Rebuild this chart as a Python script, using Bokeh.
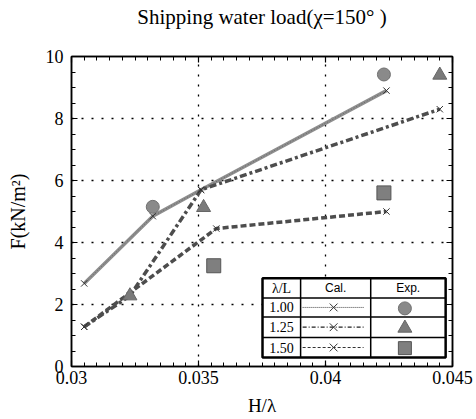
from bokeh.plotting import figure
from bokeh.models import Range1d, LinearAxis, FixedTicker, CustomJSTickFormatter, Title
from bokeh.embed import file_html
from bokeh.resources import INLINE
from bokeh.core.properties import value

# ---------------- data ----------------
h_cal_100 = [0.0305, 0.0332, 0.0351, 0.0424]
f_cal_100 = [2.68, 4.85, 5.70, 8.90]
h_cal_125 = [0.0305, 0.0323, 0.0351, 0.0445]
f_cal_125 = [1.28, 2.28, 5.70, 8.30]
h_cal_150 = [0.0305, 0.0357, 0.0424]
f_cal_150 = [1.28, 4.45, 5.00]

h_exp_100 = [0.0332, 0.0423]
f_exp_100 = [5.15, 9.42]
h_exp_125 = [0.0323, 0.0352, 0.0445]
f_exp_125 = [2.28, 5.13, 9.40]
h_exp_150 = [0.0356, 0.0423]
f_exp_150 = [3.25, 5.60]

x_ticks = [0.03, 0.035, 0.04, 0.045]
x_tick_labels = ["0.03", "0.035", "0.04", "0.045"]
y_ticks = [0, 2, 4, 6, 8, 10]
legend_names = ["1.00", "1.25", "1.50"]

title_text = "Shipping water load(\u03c7=150\u00b0 )"
x_label = "H/\u03bb"
y_label = "F(kN/m\u00b2)"

SERIF = "Liberation Serif"
SANS = "Liberation Sans"

# ---------------- figure ----------------
X0, X1, Y0, Y1 = 0.03, 0.045, 0.0, 10.0
p = figure(width=476, height=419, output_backend="svg", toolbar_location=None,
           x_range=Range1d(X0, X1), y_range=Range1d(Y0, Y1),
           min_border_left=71, min_border_right=24, min_border_top=56, min_border_bottom=53,
           background_fill_color="white", border_fill_color="white")
p.outline_line_color = "black"
p.outline_line_width = 1.5

p.title.text = title_text
p.title.text_font = SERIF
p.title.text_font_size = "21px"
p.title.text_font_style = "normal"
p.title.text_color = "black"
p.title.align = "center"
p.title.vertical_align = "top"
p.title.standoff = 8

x_minor = [X0 + i * 0.0005 for i in range(31)]
y_minor = [i * 0.5 for i in range(21)]
xt = FixedTicker(ticks=x_ticks, minor_ticks=x_minor)
yt = FixedTicker(ticks=y_ticks, minor_ticks=y_minor)

def style_axis(ax):
    ax.major_tick_in = 6
    ax.major_tick_out = 0
    ax.minor_tick_in = 4
    ax.minor_tick_out = 0
    ax.axis_line_width = 1.5
    ax.major_tick_line_width = 1.2
    ax.minor_tick_line_width = 1
    ax.major_label_text_font = SERIF
    ax.major_label_text_font_size = "18px"
    ax.major_label_text_color = "black"
    ax.axis_label_text_font = SERIF
    ax.axis_label_text_font_style = "normal"
    ax.axis_label_text_color = "black"

p.xaxis.ticker = xt
p.yaxis.ticker = yt
p.xaxis.major_label_overrides = {t: s for t, s in zip(x_ticks, x_tick_labels)}
for ax in p.xaxis:
    style_axis(ax)
    ax.major_label_standoff = 4
    ax.axis_label = x_label
    ax.axis_label_text_font_size = "19px"
    ax.axis_label_standoff = 8
for ax in p.yaxis:
    style_axis(ax)
    ax.major_label_standoff = 8
    ax.axis_label = y_label
    ax.axis_label_text_font_size = "20px"
    ax.axis_label_standoff = 14

blank = CustomJSTickFormatter(code="return ''")
ax_r = LinearAxis(ticker=FixedTicker(ticks=y_ticks, minor_ticks=y_minor), formatter=blank)
style_axis(ax_r)
ax_r.major_label_standoff = 0
p.add_layout(ax_r, "right")
ax_t = LinearAxis(ticker=FixedTicker(ticks=x_ticks, minor_ticks=x_minor), formatter=blank)
style_axis(ax_t)
ax_t.major_label_standoff = 0
p.add_layout(ax_t, "above")

# spacer between the top axis and the title (blank text, only takes room)
p.add_layout(Title(text=" ", text_font_size="14px", standoff=4), "above")

p.xgrid.ticker = xt
p.ygrid.ticker = yt
for g in (p.xgrid, p.ygrid):
    g.grid_line_color = "black"
    g.grid_line_dash = "2 8"
    g.grid_line_width = 1.3

# ---------------- calculated lines ----------------
p.line(h_cal_100, f_cal_100, line_color="#8e8e8e", line_width=3.5)
p.line(h_cal_100, f_cal_100, line_color="#666666", line_width=1, line_dash="1 2")
p.line(h_cal_125, f_cal_125, line_color="#4d4d4d", line_width=3.5, line_dash="7 3 3 3")
p.line(h_cal_150, f_cal_150, line_color="#4d4d4d", line_width=3.5, line_dash="6 3")
for hx, fy in ((h_cal_100, f_cal_100), (h_cal_125, f_cal_125), (h_cal_150, f_cal_150)):
    p.scatter(hx, fy, marker="x", size=9, line_color="#333333", line_width=1)

# ---------------- experimental points ----------------
p.scatter(h_exp_100, f_exp_100, marker="circle", size=13, fill_color="#8a8a8a", line_color="#707070")
p.scatter(h_exp_125, f_exp_125, marker="triangle", size=14, fill_color="#7a7a7a", line_color="#666666")
p.scatter(h_exp_150, f_exp_150, marker="square", size=14, fill_color="#7f7f7f", line_color="#555555")

# ---------------- legend table (data-space layout) ----------------
tl, c1, c2, tr = 0.03752, 0.03902, 0.04178, 0.04473
tt, r1, r2, r3, tb = 2.85, 2.21, 1.60, 0.935, 0.29
p.quad(left=[tl], right=[tr], top=[tt], bottom=[tb], fill_color="white",
       line_color="black", line_width=2.5)
p.segment(x0=[c1, c2, tl, tl, tl], y0=[tt, tt, r1, r2, r3],
          x1=[c1, c2, tr, tr, tr], y1=[tb, tb, r1, r2, r3],
          line_color="black", line_width=1.5)

hdr_y = (tt + r1) / 2
row_y = [(r1 + r2) / 2, (r2 + r3) / 2, (r3 + tb) / 2]
mid1 = (tl + c1) / 2
mid2 = (c1 + c2) / 2
mid3 = (c2 + tr) / 2
p.text(x=[mid1], y=[hdr_y], text=["\u03bb/L"], text_font=value(SERIF), text_font_size="14px",
       text_align="center", text_baseline="middle")
p.text(x=[mid2, mid3], y=[hdr_y, hdr_y], text=["Cal.", "Exp."], text_font=value(SANS),
       text_font_size="12px", text_align="center", text_baseline="middle")
p.text(x=[mid1] * 3, y=row_y, text=legend_names, text_font=value(SERIF), text_font_size="14px",
       text_align="center", text_baseline="middle")

lx0, lx1 = c1 + 0.00008, c2 - 0.00028
p.line([lx0, lx1], [row_y[0]] * 2, line_color="#444444", line_width=1, line_dash="1 1")
p.line([lx0, lx1], [row_y[1]] * 2, line_color="#222222", line_width=1.3, line_dash="4 2 1 2")
p.line([lx0, lx1], [row_y[2]] * 2, line_color="#333333", line_width=1, line_dash="3 2")
p.scatter([mid2 - 0.00008] * 3, row_y, marker="x", size=11, line_color="#333333", line_width=1)

p.scatter([mid3 - 0.00013], [row_y[0] - 0.03], marker="circle", size=13, fill_color="#8a8a8a", line_color="#707070")
p.scatter([mid3 - 0.00013], [row_y[1] - 0.03], marker="triangle", size=14, fill_color="#7a7a7a", line_color="#666666")
p.scatter([mid3 - 0.00013], [row_y[2] - 0.02], marker="square", size=13, fill_color="#7f7f7f", line_color="#555555")

open("out.html", "w").write(file_html(p, INLINE))
